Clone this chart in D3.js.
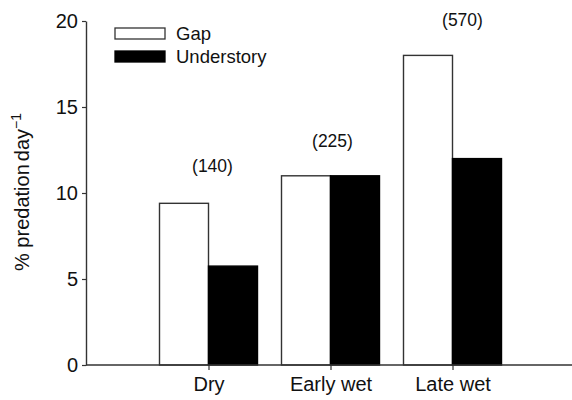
<!DOCTYPE html>
<html>
<head>
<meta charset="utf-8">
<script src="https://cdn.jsdelivr.net/npm/d3@7"></script>
<style>
  body { margin: 0; background: #fff; }
  svg { font-family: "Liberation Sans", Arial, sans-serif; }
</style>
</head>
<body>
<svg id="chart" width="572" height="400"></svg>
<script>
// data
let seasons = ['Dry', 'Early wet', 'Late wet'];
let series = ['Gap', 'Understory'];
let gapValues = [9.4, 11, 18];
let understoryValues = [5.75, 11, 12];
let sampleSizes = ['(140)', '(225)', '(570)'];
let yTicks = [0, 5, 10, 15, 20];

let svg = d3.select('#chart');
let ink = '#333';
let font = '"Liberation Sans", Arial, sans-serif';

let y = d3.scaleLinear().domain([0, 20]).range([365, 21]);
let x = d3.scalePoint().domain(seasons).range([208.5, 452.5]);
let sub = d3.scaleBand().domain(series).range([-49, 49]);

let data = seasons.map(function(s, i) {
  return { season: s, Gap: gapValues[i], Understory: understoryValues[i], n: sampleSizes[i] };
});

// bars
let groups = svg.append('g').selectAll('g')
  .data(data)
  .enter().append('g')
    .attr('transform', function(d) { return 'translate(' + x(d.season) + ',0)'; });

groups.selectAll('rect')
  .data(function(d) { return series.map(function(k) { return { key: k, value: d[k] }; }); })
  .enter().append('rect')
    .attr('x', function(d) { return sub(d.key); })
    .attr('y', function(d) { return y(d.value); })
    .attr('width', sub.bandwidth())
    .attr('height', function(d) { return y(0) - y(d.value); })
    .attr('fill', function(d) { return d.key === 'Gap' ? '#fff' : '#000'; })
    .attr('stroke', function(d) { return d.key === 'Gap' ? ink : '#000'; })
    .attr('stroke-width', 1.4);

// sample sizes above groups
let labelOffset = [4, 2, 10];
let labelY = [166, 141, 20];
svg.append('g').selectAll('text')
  .data(data)
  .enter().append('text')
    .attr('x', function(d, i) { return x(d.season) + labelOffset[i]; })
    .attr('y', function(d, i) { return labelY[i]; })
    .attr('dy', '0.35em')
    .attr('text-anchor', 'middle')
    .attr('font-size', 17.5)
    .attr('fill', '#111')
    .text(function(d) { return d.n; });

// y axis
let yAxis = svg.append('g')
  .attr('transform', 'translate(86,0)')
  .call(d3.axisLeft(y).tickValues(yTicks).tickSize(4).tickSizeOuter(0).tickPadding(4));
yAxis.select('.domain').attr('stroke', ink).attr('stroke-width', 1.4);
yAxis.selectAll('.tick line').attr('stroke', ink).attr('stroke-width', 1.2);
yAxis.selectAll('.tick text').attr('font-size', 20).attr('fill', '#111')
  .attr('font-family', font);

// x axis
let xAxis = svg.append('g')
  .attr('transform', 'translate(0,365)')
  .call(d3.axisBottom(x).tickSize(5).tickPadding(7));
xAxis.select('.domain').remove();
xAxis.append('line')
  .attr('x1', 86).attr('x2', 572)
  .attr('stroke', ink).attr('stroke-width', 1.4);
xAxis.selectAll('.tick line').attr('stroke', ink).attr('stroke-width', 1.2);
xAxis.selectAll('.tick text').attr('font-size', 20).attr('fill', '#111')
  .attr('font-family', font);

// y label
let yLabel = svg.append('text')
  .attr('transform', 'translate(29,192) rotate(-90)')
  .attr('text-anchor', 'middle')
  .attr('font-size', 20)
  .attr('fill', '#111');
yLabel.append('tspan').text('% predation');
yLabel.append('tspan').attr('dx', 3).text('day');
yLabel.append('tspan').attr('dy', -8).attr('font-size', 14).text('\u22121');

// legend
let legend = svg.append('g').attr('transform', 'translate(115,28)');
let rows = legend.selectAll('g')
  .data(series)
  .enter().append('g')
    .attr('transform', function(d, i) { return 'translate(0,' + (i * 23) + ')'; });
rows.append('rect')
  .attr('width', 50).attr('height', 11)
  .attr('fill', function(d) { return d === 'Gap' ? '#fff' : '#000'; })
  .attr('stroke', function(d) { return d === 'Gap' ? ink : '#000'; })
  .attr('stroke-width', 1.3);
rows.append('text')
  .attr('x', 61).attr('y', 5.5).attr('dy', '0.35em')
  .attr('font-size', 18.5).attr('fill', '#111')
  .text(function(d) { return d; });
</script>
</body>
</html>
